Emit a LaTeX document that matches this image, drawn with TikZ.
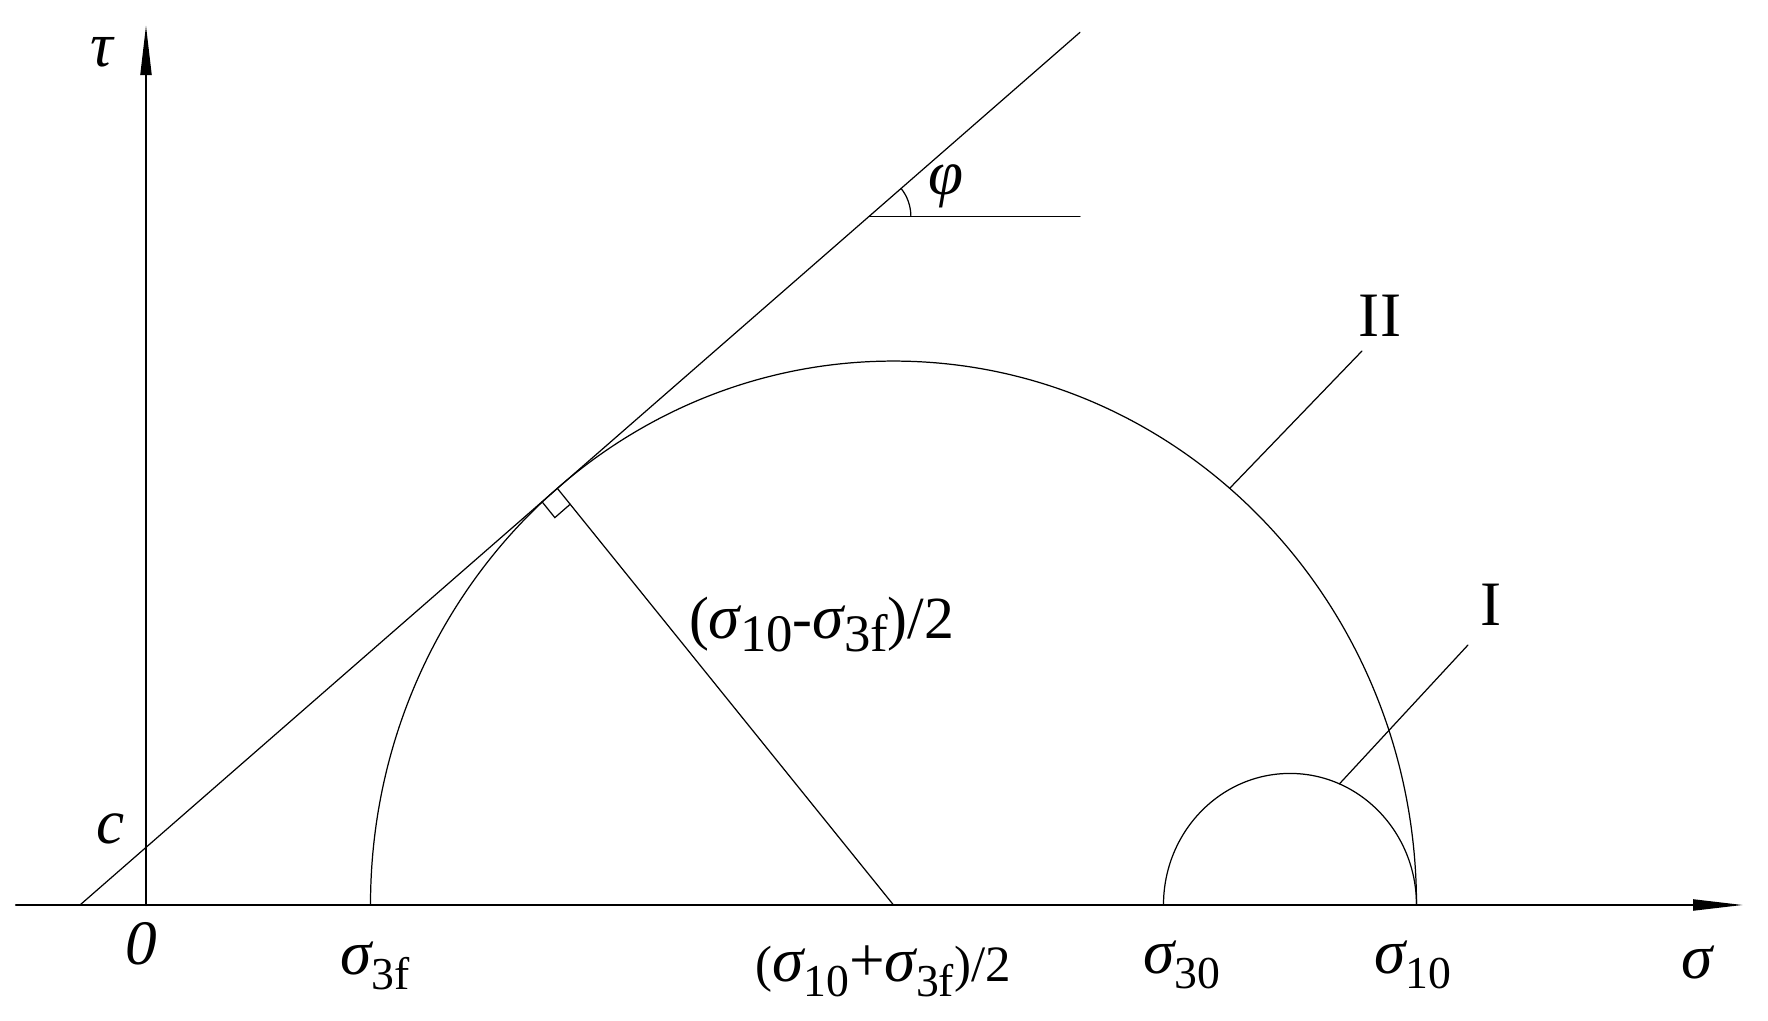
\documentclass[tikz,border=0pt]{standalone}
\usepackage{fontspec}
\setmainfont{Liberation Serif}
\usetikzlibrary{arrows.meta}
\begin{document}
\begin{tikzpicture}[x=1cm,y=1.04cm,line cap=round]
        % Local definitions
        \def\radbig{5.23}
        \def\radsmall{1.265}
        \def\sig{{\fontsize{18}{20}\selectfont\itshape σ}}
        \def\lowsub#1{\raisebox{-0.15cm}{\fontsize{13}{15}\selectfont #1}}
        \def\bigsub#1{\raisebox{-0.13cm}{\fontsize{15}{17}\selectfont #1}}
        % Styles
        \tikzstyle{axes}=[line width=0.6pt,-{Triangle[length=5mm,width=1.1mm]}]
        \tikzstyle{thin line}=[line width=0.35pt]
        \tikzstyle{label text}=[inner sep=0pt,font=\fontsize{18}{20}\selectfont,anchor=base]
        \useasboundingbox (-1.46,-1.106) rectangle (16.22,8.702);
        % Points
        \coordinate (O) at (0,0);
        \coordinate (sigma start) at (-1.30,0);
        \coordinate (sigma end) at (15.97,0);
        \coordinate (tau end) at (0,8.46);
        \coordinate (C2) at (7.475,0);
        \coordinate (C1) at (11.44,0);
        \coordinate (S3f) at (2.245,0);
        \coordinate (S30) at (10.175,0);
        \coordinate (S10) at (12.705,0);
        \coordinate (A) at (-0.66,0);
        \coordinate (L top) at (9.34,8.391);
        \coordinate (V) at (7.229,6.62);
        \coordinate (H end) at (9.34,6.62);
        \path (C2) ++(130:\radbig) coordinate (T);
        \path (C2) ++(50:\radbig) coordinate (P2);
        \path (C1) ++(67:\radsmall) coordinate (P1);
        \coordinate (Q2) at (12.16,5.327);
        \coordinate (Q1) at (13.22,2.5);
        %The graphic
        \begin{scope}[style=axes]
            \draw (sigma start) -- (sigma end);
            \draw (O) -- (tau end);
        \end{scope}
        \begin{scope}[style=thin line]
            \draw (A) -- (L top);
            \draw (V) -- (H end);
            \draw (V) ++(0.42,0) arc[start angle=0,end angle=40,radius=0.42];
            \draw (S10) arc[start angle=0,end angle=180,radius=\radbig];
            \draw (S10) arc[start angle=0,end angle=180,radius=\radsmall];
            \draw (T) -- (C2);
            \draw (T) ++(220:0.2) -- ++(310:0.2) -- ++(40:0.2);
            \draw (P2) -- (Q2);
            \draw (P1) -- (Q1);
        \end{scope}
        % Labels
        \node[label text] (tau label) at (-0.443,8.06) {\itshape τ};
        \node[label text] (c label) at (-0.35,0.596) {\itshape c};
        \node[label text] (zero label) at (-0.05,-0.577) {\itshape 0};
        \node[label text] (sigma label) at (15.515,-0.71) {\sig};
        \node[label text] (s3f label) at (2.29,-0.673) {\sig\lowsub{3f}};
        \node[label text] (mid label) at (7.37,-0.74) {\fontsize{14.5}{16}\selectfont(\sig\lowsub{10}{\fontsize{18}{20}\selectfont+}\sig\lowsub{3f})/2};
        \node[label text] (s30 label) at (10.36,-0.654) {\sig\lowsub{30}};
        \node[label text] (s10 label) at (12.665,-0.654) {\sig\lowsub{10}};
        \node[label text,font=\fontsize{17}{19}\selectfont] (radius label) at (6.757,2.565) {(\sig\bigsub{10}-\sig\bigsub{3f})/2};
        \node[label text,anchor=center] (phi label) at (8.0,6.91) {\itshape φ};
        \node[label text] (II label) at (12.34,5.47) {II};
        \node[label text] (I label) at (13.45,2.69) {I};
\end{tikzpicture}
\end{document}
